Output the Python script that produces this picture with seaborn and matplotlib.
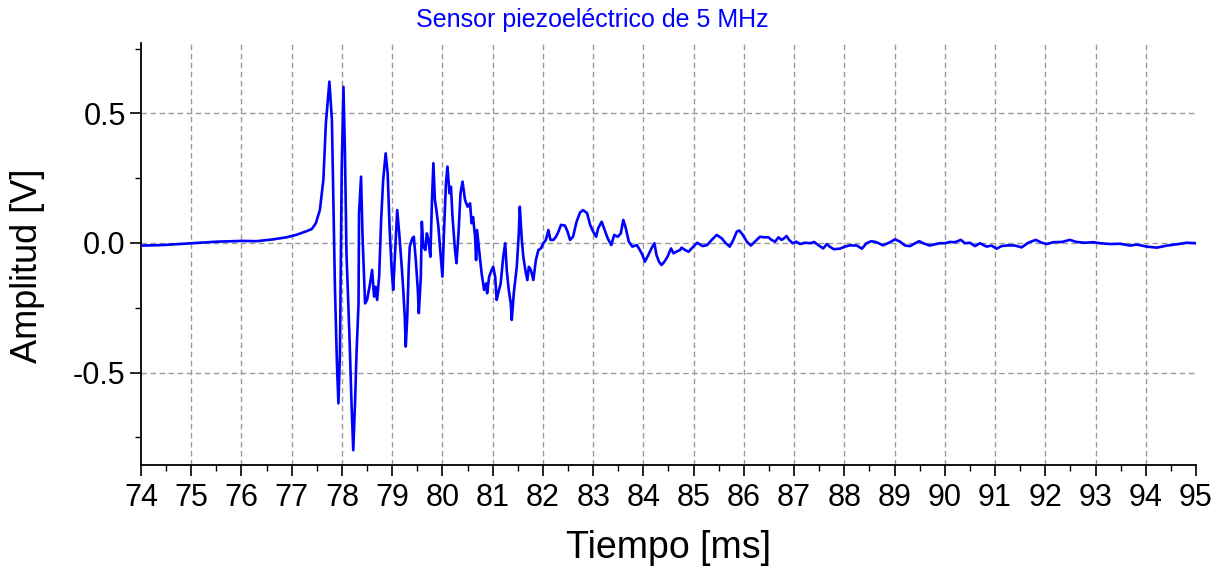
import matplotlib
matplotlib.use("Agg")
import matplotlib.pyplot as plt
import numpy as np
import pandas as pd
import seaborn as sns
from matplotlib.ticker import MultipleLocator, FormatStrFormatter

# Waveform recorded by the 5 MHz piezoelectric sensor
tiempo_ms = [
    74.00, 74.44, 75.00, 75.50, 76.00, 76.30, 76.63, 76.90, 77.10, 77.30,
    77.40, 77.48, 77.56, 77.63, 77.68, 77.75, 77.80, 77.83, 77.86, 77.90,
    77.93, 77.96, 77.975, 77.995, 78.03, 78.06, 78.09, 78.15, 78.19, 78.225,
    78.26, 78.29, 78.33, 78.34, 78.38, 78.41, 78.46, 78.50, 78.56, 78.60,
    78.64, 78.67, 78.70, 78.74, 78.78, 78.82, 78.87, 78.91, 78.95, 78.99,
    79.02, 79.06, 79.10, 79.14, 79.19, 79.22, 79.25, 79.27, 79.30, 79.33,
    79.35, 79.40, 79.43, 79.47, 79.51, 79.53, 79.57, 79.59, 79.62, 79.66,
    79.69, 79.72, 79.76, 79.79, 79.82, 79.85, 79.88, 79.92, 79.95, 80.00,
    80.03, 80.07, 80.10, 80.14, 80.17, 80.20, 80.25, 80.28, 80.32, 80.36,
    80.40, 80.45, 80.50, 80.55, 80.58, 80.61, 80.65, 80.67, 80.69, 80.73,
    80.78, 80.83, 80.87, 80.89, 80.93, 80.98, 81.01, 81.05, 81.08, 81.11,
    81.16, 81.21, 81.25, 81.28, 81.32, 81.36, 81.38, 81.42, 81.48, 81.52,
    81.54, 81.58, 81.61, 81.65, 81.69, 81.72, 81.76, 81.81, 81.86, 81.91,
    81.96, 82.01, 82.06, 82.11, 82.15, 82.21, 82.26, 82.31, 82.36, 82.44,
    82.49, 82.54, 82.60, 82.67, 82.74, 82.80, 82.88, 82.94, 83.00, 83.06,
    83.10, 83.17, 83.24, 83.29, 83.36, 83.42, 83.49, 83.55, 83.60, 83.65,
    83.71, 83.78, 83.87, 83.93, 83.98, 84.03, 84.10, 84.16, 84.22, 84.26,
    84.31, 84.36, 84.42, 84.48, 84.55, 84.60, 84.65, 84.73, 84.76, 84.83,
    84.90, 84.96, 85.07, 85.18, 85.27, 85.36, 85.46, 85.56, 85.64, 85.72,
    85.79, 85.86, 85.91, 85.98, 86.06, 86.14, 86.22, 86.32, 86.40, 86.49,
    86.55, 86.62, 86.69, 86.75, 86.80, 86.85, 86.90, 86.97, 87.04, 87.12,
    87.22, 87.32, 87.40, 87.48, 87.58, 87.65, 87.71, 87.79, 87.91, 88.01,
    88.11, 88.25, 88.35, 88.44, 88.54, 88.64, 88.77, 88.89, 89.01, 89.11,
    89.21, 89.31, 89.41, 89.49, 89.57, 89.70, 89.80, 89.90, 90.00, 90.10,
    90.20, 90.32, 90.40, 90.50, 90.60, 90.70, 90.83, 90.93, 91.03, 91.13,
    91.26, 91.40, 91.53, 91.66, 91.81, 91.93, 92.03, 92.16, 92.33, 92.49,
    92.62, 92.79, 92.96, 93.09, 93.29, 93.49, 93.69, 93.82, 94.02, 94.22,
    94.42, 94.62, 94.82, 95.00,
]

amplitud_v = [
    -0.010, -0.008, -0.001, 0.005, 0.008, 0.007, 0.014, 0.022, 0.032, 0.046,
    0.054, 0.076, 0.127, 0.243, 0.462, 0.623, 0.475, 0.153, -0.169, -0.465,
    -0.619, -0.426, -0.104, 0.282, 0.603, 0.346, -0.040, -0.362, -0.619, -0.800,
    -0.619, -0.426, -0.233, 0.115, 0.256, 0.024, -0.233, -0.220, -0.156, -0.104,
    -0.207, -0.169, -0.220, -0.130, 0.089, 0.243, 0.346, 0.269, 0.050, -0.104,
    -0.181, -0.027, 0.127, 0.037, -0.092, -0.181, -0.285, -0.400, -0.285, -0.092,
    -0.014, 0.018, 0.024, -0.066, -0.181, -0.271, -0.130, 0.082, -0.014, -0.027,
    0.037, 0.012, -0.053, 0.153, 0.308, 0.166, 0.127, 0.063, -0.014, -0.130,
    0.037, 0.230, 0.295, 0.192, 0.217, 0.102, -0.027, -0.078, 0.037, 0.192,
    0.237, 0.166, 0.140, 0.153, 0.076, 0.100, 0.024, -0.066, 0.050, -0.027,
    -0.117, -0.181, -0.156, -0.194, -0.130, -0.104, -0.092, -0.130, -0.220, -0.194,
    -0.156, -0.053, -0.001, -0.104, -0.181, -0.233, -0.297, -0.194, -0.092, 0.037,
    0.140, 0.012, -0.053, -0.104, -0.143, -0.092, -0.104, -0.143, -0.066, -0.027,
    -0.021, -0.001, 0.012, 0.050, 0.012, 0.012, 0.024, 0.044, 0.070, 0.067,
    0.044, 0.012, 0.024, 0.082, 0.118, 0.127, 0.115, 0.070, 0.044, 0.024,
    0.057, 0.082, 0.044, 0.018, -0.008, 0.031, 0.024, 0.037, 0.089, 0.057,
    0.005, -0.014, -0.008, -0.027, -0.046, -0.072, -0.046, -0.021, -0.001, -0.046,
    -0.072, -0.085, -0.072, -0.053, -0.021, -0.040, -0.034, -0.027, -0.018, -0.027,
    -0.034, -0.021, 0.001, -0.012, -0.008, 0.012, 0.031, 0.018, -0.001, -0.014,
    0.012, 0.044, 0.048, 0.031, 0.005, -0.010, 0.005, 0.024, 0.022, 0.022,
    0.012, 0.005, 0.022, 0.012, 0.018, 0.027, 0.012, -0.001, 0.005, -0.004,
    0.001, -0.001, 0.004, -0.008, -0.021, -0.004, -0.014, -0.024, -0.022, -0.014,
    -0.009, -0.010, -0.022, -0.001, 0.007, 0.003, -0.009, 0.001, 0.014, 0.005,
    -0.010, -0.012, -0.001, 0.007, -0.001, -0.010, -0.005, -0.001, -0.001, 0.004,
    0.003, 0.012, -0.001, 0.001, -0.012, -0.001, -0.014, -0.010, -0.022, -0.012,
    -0.009, -0.010, -0.017, 0.001, 0.012, 0.001, -0.004, 0.003, 0.004, 0.012,
    0.004, 0.001, 0.003, -0.001, -0.004, -0.003, -0.010, -0.006, -0.014, -0.018,
    -0.010, -0.005, 0.001, -0.001,
]

titulo = "Sensor piezoeléctrico de 5 MHz"
etiqueta_x = "Tiempo [ms]"
etiqueta_y = "Amplitud [V]"

df = pd.DataFrame({"tiempo": tiempo_ms, "amplitud": amplitud_v})

sns.set_style("ticks")
plt.rcParams["font.family"] = ["Liberation Sans", "DejaVu Sans"]
plt.rcParams["axes.unicode_minus"] = False
plt.rcParams["text.color"] = "black"
plt.rcParams["axes.labelcolor"] = "black"
plt.rcParams["xtick.color"] = "black"
plt.rcParams["ytick.color"] = "black"

W, H = 1227, 571
fig = plt.figure(figsize=(W / 100, H / 100), dpi=100)
ax = fig.add_axes([141 / W, 1 - 465 / H, (1196 - 141) / W, (465 - 43) / H])

sns.lineplot(data=df, x="tiempo", y="amplitud", sort=False, color="#0000ff",
             linewidth=1.9, ax=ax, zorder=3)

ax.set_xlim(74, 95)
ax.set_ylim(-0.857, 0.772)
ax.xaxis.set_major_locator(MultipleLocator(1))
ax.xaxis.set_minor_locator(MultipleLocator(0.5))
ax.yaxis.set_major_locator(MultipleLocator(0.5))
ax.yaxis.set_minor_locator(MultipleLocator(0.25))
ax.yaxis.set_major_formatter(FormatStrFormatter("%.1f"))

ax.grid(True, which="major", color="#9a9a9a", linestyle=(0, (4, 2.5)), linewidth=1.0)
ax.set_axisbelow(True)

for side in ("top", "right"):
    ax.spines[side].set_visible(False)
for side in ("left", "bottom"):
    ax.spines[side].set_color("black")
    ax.spines[side].set_linewidth(1.3)

ax.tick_params(which="major", direction="out", length=8, width=1.2, colors="black",
               labelcolor="black", labelsize=22)
ax.tick_params(which="minor", direction="out", length=4.5, width=1.0, colors="black")
ax.tick_params(axis="x", which="major", pad=5)
ax.tick_params(axis="y", which="major", pad=3)

ax.set_xlabel("")
ax.set_ylabel("")
fig.text(669 / W, 1 - 548 / H, etiqueta_x, ha="center", va="center", fontsize=27,
         color="black")
fig.text(28 / W, 1 - 266 / H, etiqueta_y, ha="center", va="center", rotation=90,
         fontsize=26, color="black")
fig.text(592 / W, 1 - 20 / H, titulo, ha="center", va="center", fontsize=18,
         color="#0000ff")

# no grid line on the axis limits
fig.canvas.draw()
for tick in ax.xaxis.get_major_ticks():
    if tick.get_loc() <= 74.001 or tick.get_loc() >= 94.999:
        tick.gridline.set_visible(False)

fig.savefig("out.png", dpi=100)
